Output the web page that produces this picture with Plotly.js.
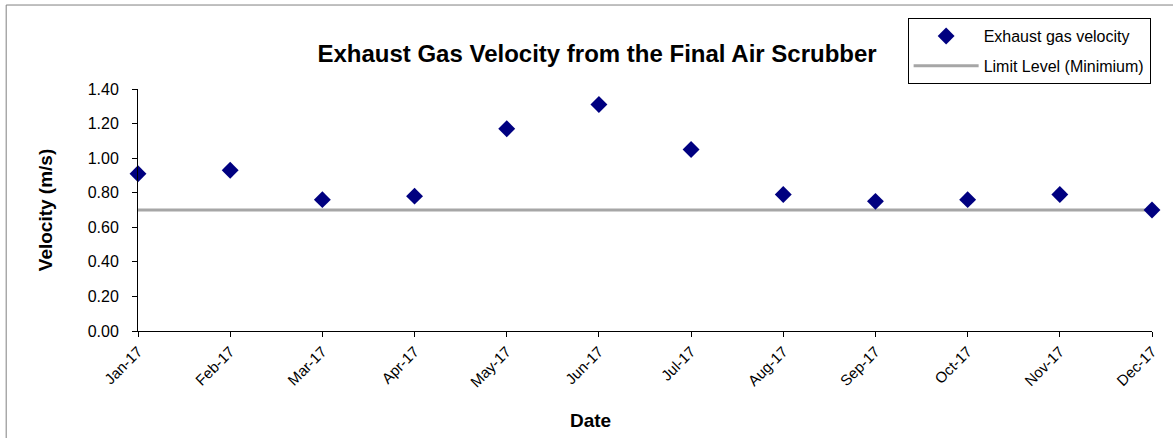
<!DOCTYPE html>
<html>
<head>
<meta charset="utf-8">
<script src="https://cdn.plot.ly/plotly-3.0.1.min.js"></script>
<style>
html,body{margin:0;padding:0;background:#fff;}
#chart{width:1173px;height:438px;}
</style>
</head>
<body>
<div id="chart"></div>
<script>
const months = ["Jan-17","Feb-17","Mar-17","Apr-17","May-17","Jun-17","Jul-17","Aug-17","Sep-17","Oct-17","Nov-17","Dec-17"];
const velocity = [0.91,0.93,0.76,0.78,1.17,1.31,1.05,0.79,0.75,0.76,0.79,0.70];
const limitLevel = [0.70,0.70,0.70,0.70,0.70,0.70,0.70,0.70,0.70,0.70,0.70,0.70];
const yTicks = [0,0.2,0.4,0.6,0.8,1.0,1.2,1.4];

const font = "Arial, 'Liberation Sans', sans-serif";

const traces = [
  {
    x: months, y: limitLevel, name: "Limit Level (Minimium)",
    type: "scatter", mode: "lines",
    line: {color: "#a6a6a6", width: 3},
    legendgroup: "b", legendrank: 2,
    cliponaxis: false
  },
  {
    x: months, y: velocity, name: "Exhaust gas velocity",
    type: "scatter", mode: "markers",
    marker: {symbol: "diamond", size: 13, color: "#000080"},
    legendgroup: "a", legendrank: 1,
    cliponaxis: false
  }
];

const layout = {
  width: 1173, height: 438,
  margin: {l: 138, r: 21, t: 89, b: 107},
  paper_bgcolor: "#fff", plot_bgcolor: "#fff",
  font: {family: font, color: "#000", size: 16},
  title: {
    text: "<b>Exhaust Gas Velocity from the Final Air Scrubber</b>",
    font: {family: font, size: 24, color: "#000"},
    x: 0.509, xanchor: "center", xref: "container",
    y: 0.877, yanchor: "middle", yref: "container"
  },
  xaxis: {
    type: "category",
    categoryorder: "array", categoryarray: months,
    range: [0, 11],
    showgrid: false, zeroline: false,
    showline: true, linecolor: "#000", linewidth: 1,
    ticks: "outside", ticklen: 5, tickcolor: "#000",
    tickangle: -45,
    tickfont: {family: font, size: 15}
  },
  yaxis: {
    range: [0, 1.4],
    tickvals: yTicks,
    tickformat: ".2f",
    showgrid: false, zeroline: false,
    showline: true, linecolor: "#000", linewidth: 1,
    ticks: "outside", ticklen: 5, tickcolor: "#000",
    ticklabelstandoff: 10,
    tickfont: {family: font, size: 16},
    title: {text: "<b>Velocity (m/s)</b>", font: {family: font, size: 19}, standoff: 30}
  },
  annotations: [
    {text: "<b>Date</b>", xref: "paper", yref: "paper",
     x: 0.4467, y: -0.368, xanchor: "center", yanchor: "middle",
     showarrow: false, font: {family: font, size: 19, color: "#000"}}
  ],
  legend: {
    x: 0.759, xanchor: "left", y: 1.293, yanchor: "top",
    bgcolor: "#fff", bordercolor: "#000", borderwidth: 1,
    font: {family: font, size: 16},
    traceorder: "grouped",
    tracegroupgap: 6,
    itemwidth: 65
  },
  showlegend: true,
  shapes: [
    {type: "rect", xref: "paper", yref: "paper",
     x0: -0.130, x1: 1.2, y0: -1, y1: 1.347,
     line: {color: "#808080", width: 1}, layer: "below"}
  ]
};

Plotly.newPlot("chart", traces, layout, {displayModeBar: false, staticPlot: true});
</script>
</body>
</html>
